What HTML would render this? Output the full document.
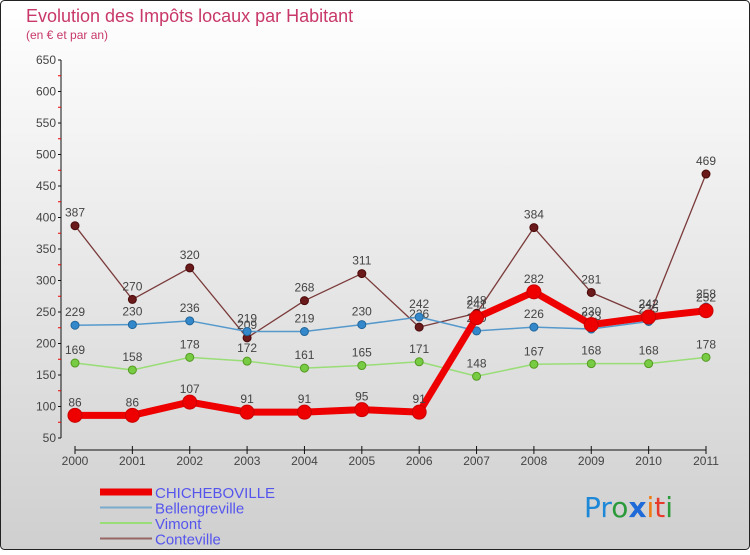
<!DOCTYPE html>
<html><head><meta charset="utf-8"><style>
body{margin:0;width:750px;height:550px;overflow:hidden;font-family:"Liberation Sans",sans-serif}
</style></head><body>
<svg id="c" width="750" height="550" xmlns="http://www.w3.org/2000/svg">
<defs><linearGradient id="bg" x1="0" y1="0" x2="0" y2="1"><stop offset="0" stop-color="#ffffff"/><stop offset="1" stop-color="#cfcfcf"/></linearGradient></defs>
<rect x="0.5" y="0.5" width="749" height="549" rx="4" fill="url(#bg)" stroke="#222"/>
<text x="26" y="22" font-size="18" fill="#c8386a">Evolution des Impôts locaux par Habitant</text>
<text x="26" y="39" font-size="12" fill="#c8386a">(en € et par an)</text>
<g id="axes"></g><g id="series"></g><g id="legend"></g>
<g font-size="28" font-family="DejaVu Sans, sans-serif">
<text x="584" y="517"><tspan fill="#1e88d8">Pr</tspan><tspan fill="#2a9a3a">o</tspan><tspan fill="#1e6ad8" font-weight="bold">x</tspan><tspan fill="#f07a10">i</tspan><tspan fill="#e83a2a">t</tspan><tspan fill="#2a9a3a">i</tspan></text>
</g>
</svg>
<script>
const years=["2000","2001","2002","2003","2004","2005","2006","2007","2008","2009","2010","2011"];
const yTicks=[50,100,150,200,250,300,350,400,450,500,550,600,650];
const chich=[86,86,107,91,91,95,91,241,282,230,242,252];
const bell=[229,230,236,219,219,230,242,220,226,223,235,258];
const vimont=[169,158,178,172,161,165,171,148,167,168,168,178];
const conte=[387,270,320,209,268,311,226,248,384,281,242,469];
const NS="http://www.w3.org/2000/svg";
const X=i=>75+i*(631/11);
const Y=v=>438-(v-50)*(378/600);
function mk(tag,at,parent){const e=document.createElementNS(NS,tag);for(const k in at)e.setAttribute(k,at[k]);parent.appendChild(e);return e;}
const ax=document.getElementById('axes');
let yl=mk('line',{x1:61,y1:60,x2:61,y2:438,stroke:'#111'},ax);


yTicks.forEach((t,i)=>{
 mk('line',{x1:58,y1:Y(t),x2:61,y2:Y(t),stroke:'#111'},ax);
 if(i<yTicks.length-1) mk('line',{x1:58,y1:Y(t+25),x2:61,y2:Y(t+25),stroke:'#e00'},ax);
 const tx=mk('text',{x:56,y:Y(t)+4,'text-anchor':'end','font-size':12,fill:'#444'},ax);
 tx.textContent=t;
 
 
});
let xl=mk('line',{x1:X(0),y1:450,x2:X(11),y2:450,stroke:'#111'},ax);


years.forEach((y,i)=>{
 mk('line',{x1:X(i),y1:446,x2:X(i),y2:454,stroke:'#111'},ax);
 const tx=mk('text',{x:X(i),y:465,'text-anchor':'middle','font-size':12,fill:'#444'},ax);
 tx.textContent=y;
 
 
});
const sg=document.getElementById('series');
function series(name,vals,color,w,r,dot,dstroke){
 const g=mk('g',{},sg);
 
 
 mk('polyline',{points:vals.map((v,i)=>X(i)+','+Y(v)).join(' '),fill:'none',stroke:color,'stroke-width':w,'stroke-linejoin':'round'},g);
 vals.forEach((v,i)=>{
  const c=mk('circle',{cx:X(i),cy:Y(v),r:r,fill:dot,stroke:dstroke,'stroke-width':1},g);
  
  
  const t=mk('text',{x:X(i),y:Y(v)-9,'text-anchor':'middle','font-size':12,fill:'#444'},g);
  t.textContent=v;
  
  
 });
}
series('conteville',conte,'#7a3a3a',1.3,4,'#6a1a1a','#4a0a0a');
series('vimont',vimont,'#99dd77',1.5,4,'#77cc44','#559922');
series('bellengreville',bell,'#5599cc',1.5,4,'#3388cc','#226699');
series('chicheboville',chich,'#ee0000',7,7,'#ee0000','#cc0000');
const lg=document.getElementById('legend');
[['CHICHEBOVILLE','#ee0000',7],['Bellengreville','#7aaacc',2],['Vimont','#99dd77',2],['Conteville','#996666',2]].forEach((e,i)=>{
 const y=492+i*15.5;
 const g=mk('g',{},lg);
 
 
 mk('line',{x1:100,y1:y,x2:152,y2:y,stroke:e[1],'stroke-width':e[2]},g);
 const t=mk('text',{x:155,y:y+6,'font-size':15,fill:'#5555ee'},g);
 t.textContent=e[0];
});
</script>
</body></html>
